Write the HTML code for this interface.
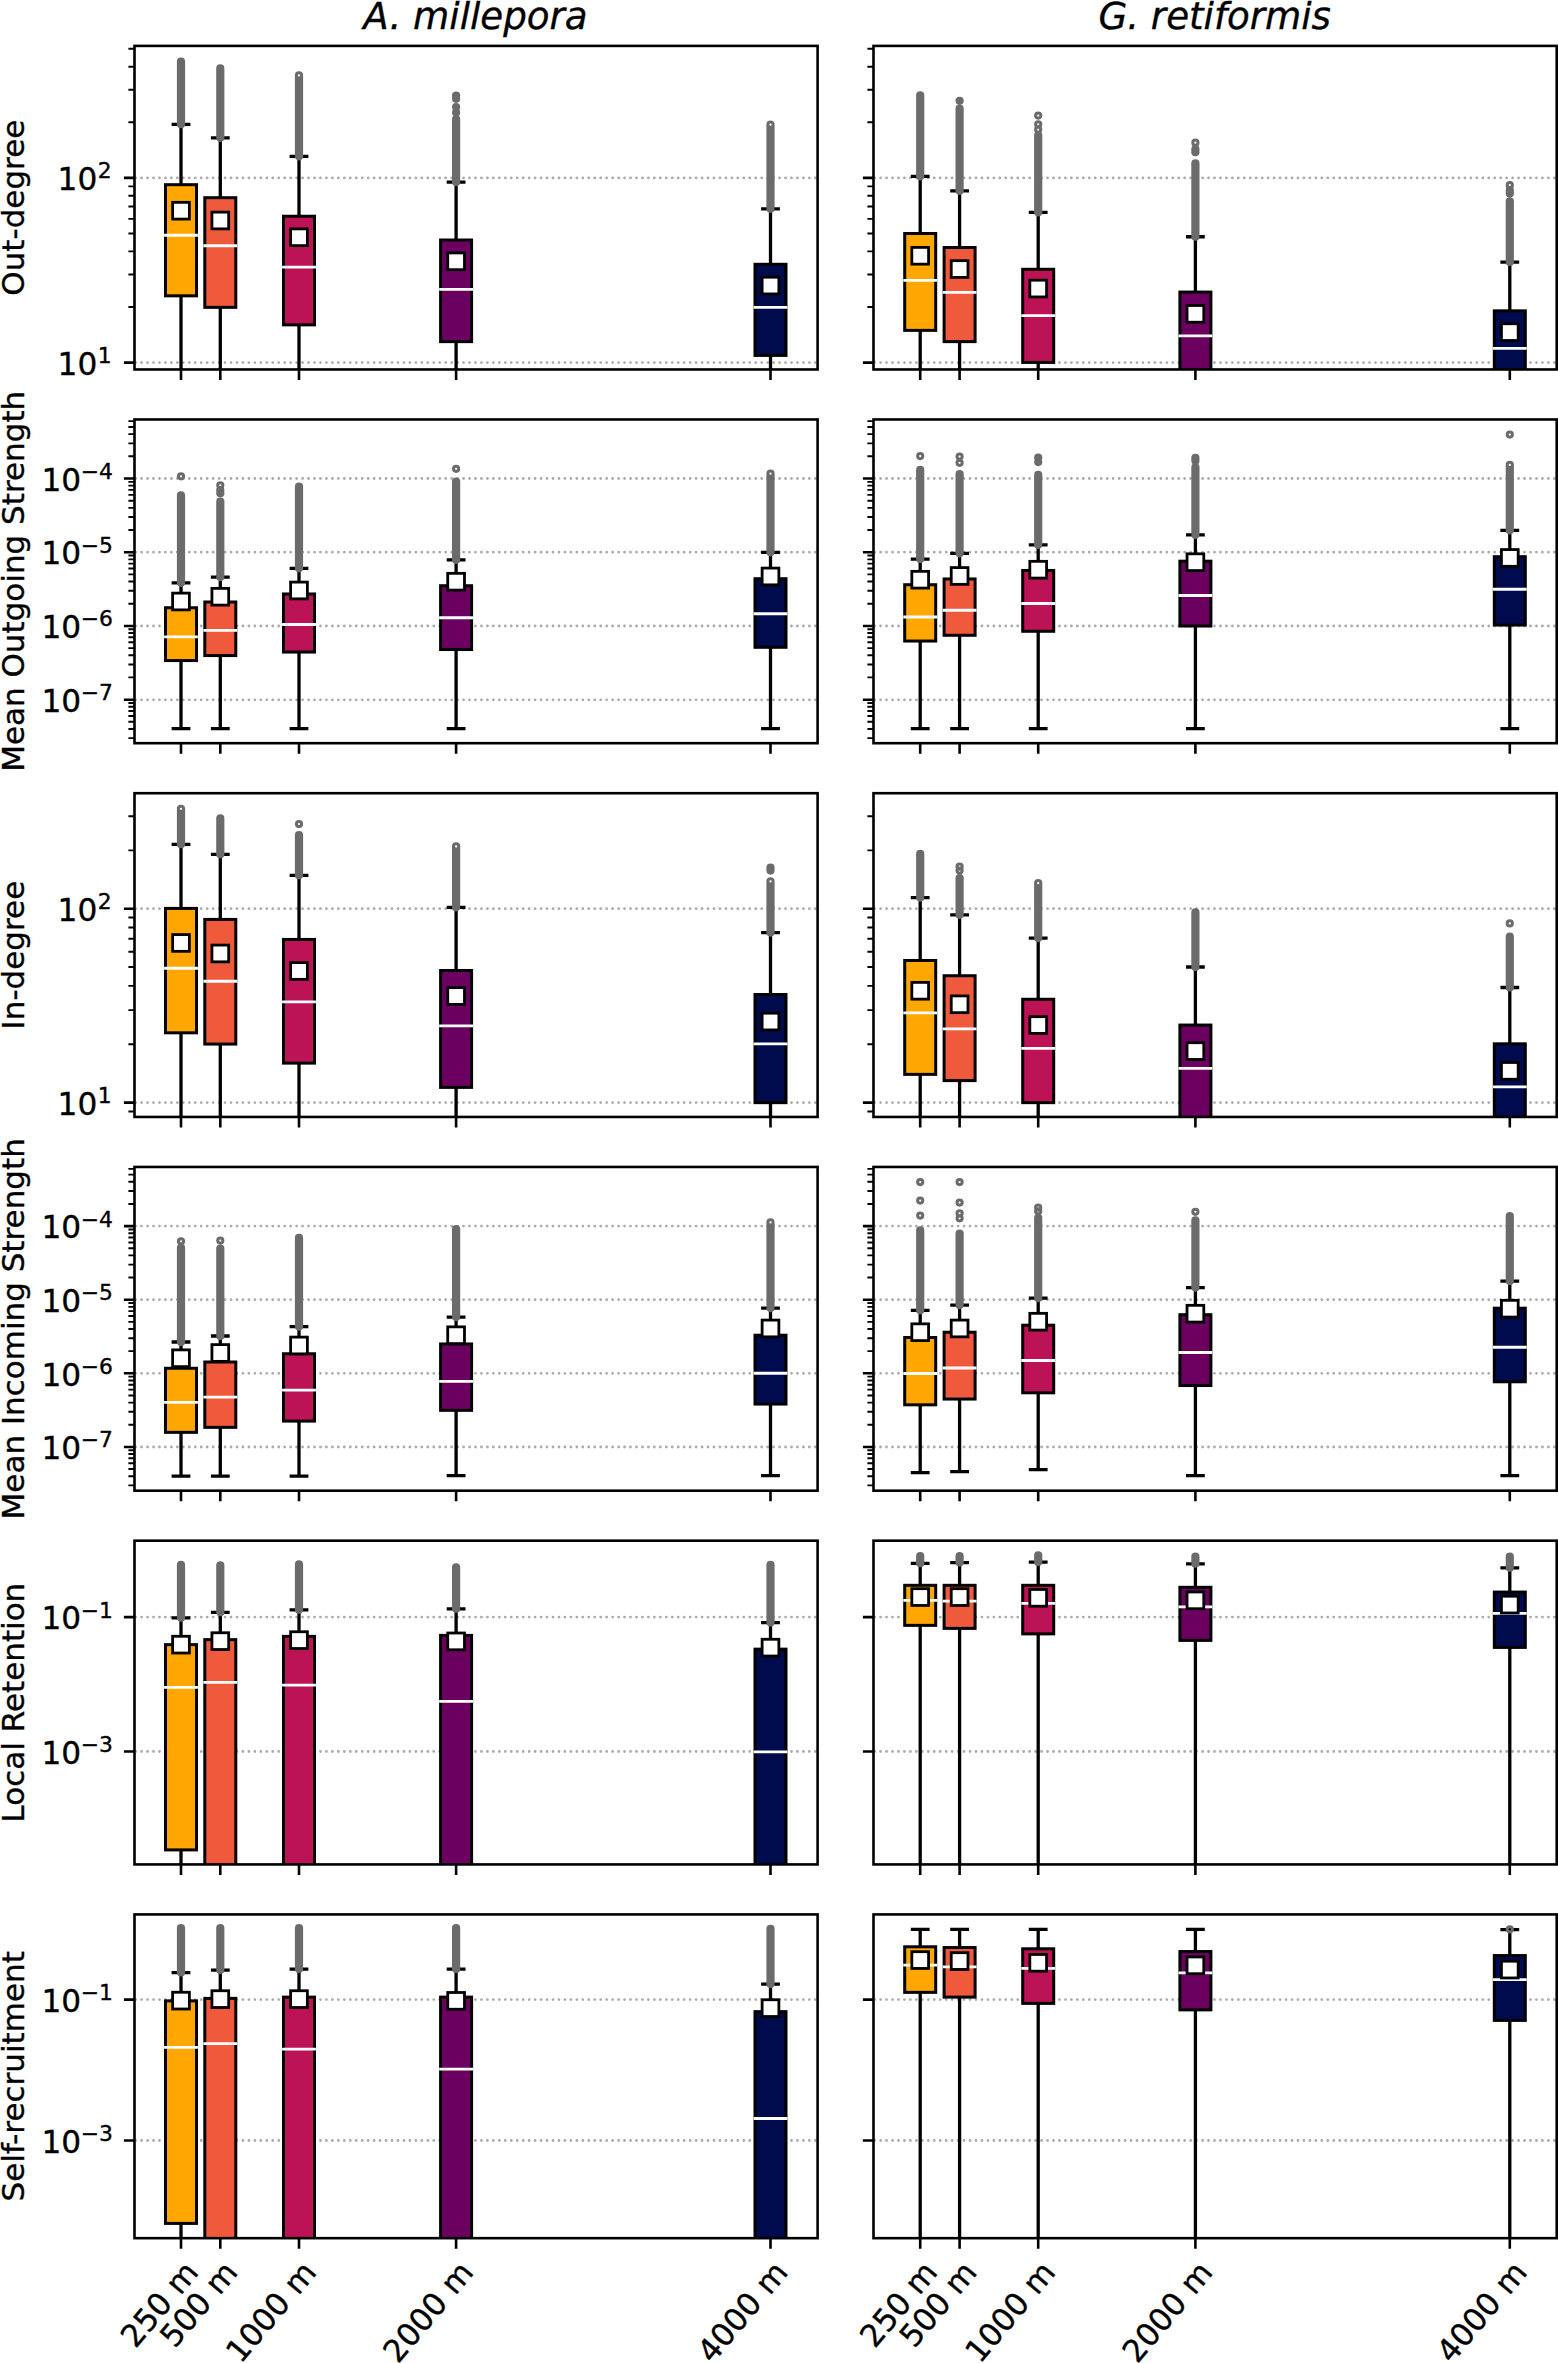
<!DOCTYPE html>
<html lang="en"><head><meta charset="utf-8"><title>Connectivity metrics</title>
<style>html,body{margin:0;padding:0;background:#fff}svg{display:block}</style></head>
<body>
<svg width="1558" height="2363" viewBox="0 0 1558 2363">
<rect width="1558" height="2363" fill="#fff"/>
<defs>
<clipPath id="c00"><rect x="134.5" y="45.9" width="683.1" height="323.57"/></clipPath>
<clipPath id="c01"><rect x="873.5" y="45.9" width="683.2" height="323.57"/></clipPath>
<clipPath id="c10"><rect x="134.5" y="419.47" width="683.1" height="323.74"/></clipPath>
<clipPath id="c11"><rect x="873.5" y="419.47" width="683.2" height="323.74"/></clipPath>
<clipPath id="c20"><rect x="134.5" y="793.21" width="683.1" height="323.74"/></clipPath>
<clipPath id="c21"><rect x="873.5" y="793.21" width="683.2" height="323.74"/></clipPath>
<clipPath id="c30"><rect x="134.5" y="1166.95" width="683.1" height="323.74"/></clipPath>
<clipPath id="c31"><rect x="873.5" y="1166.95" width="683.2" height="323.74"/></clipPath>
<clipPath id="c40"><rect x="134.5" y="1540.69" width="683.1" height="323.74"/></clipPath>
<clipPath id="c41"><rect x="873.5" y="1540.69" width="683.2" height="323.74"/></clipPath>
<clipPath id="c50"><rect x="134.5" y="1914.43" width="683.1" height="323.74"/></clipPath>
<clipPath id="c51"><rect x="873.5" y="1914.43" width="683.2" height="323.74"/></clipPath>
</defs>
<g>
<line x1="135.62" x2="817.6" y1="177.9" y2="177.9" stroke="#ABABAB" stroke-width="2.8" stroke-linecap="round" stroke-dasharray="0.01 5.9525"/>
<line x1="135.62" x2="817.6" y1="362.6" y2="362.6" stroke="#ABABAB" stroke-width="2.8" stroke-linecap="round" stroke-dasharray="0.01 5.9525"/>
<g clip-path="url(#c00)">
<path d="M181 184.69V124.36M181 295.83V389.47" stroke="#000" stroke-width="3.3" fill="none"/>
<path d="M171.6 124.36H190.4" stroke="#000" stroke-width="3.3" fill="none"/>
<rect x="165.5" y="184.69" width="31" height="111.14" fill="#FFA600" stroke="#000" stroke-width="3.0"/>
<line x1="164.1" x2="197.9" y1="235.25" y2="235.25" stroke="#fff" stroke-width="2.8"/>
<path d="M220.3 197.7V137.88M220.3 307.34V389.47" stroke="#000" stroke-width="3.3" fill="none"/>
<path d="M210.9 137.88H229.7" stroke="#000" stroke-width="3.3" fill="none"/>
<rect x="204.8" y="197.7" width="31" height="109.64" fill="#F05A3C" stroke="#000" stroke-width="3.0"/>
<line x1="203.4" x2="237.2" y1="245.76" y2="245.76" stroke="#fff" stroke-width="2.8"/>
<path d="M299 216.23V156.4M299 324.87V389.47" stroke="#000" stroke-width="3.3" fill="none"/>
<path d="M289.6 156.4H308.4" stroke="#000" stroke-width="3.3" fill="none"/>
<rect x="283.5" y="216.23" width="31" height="108.64" fill="#BC1256" stroke="#000" stroke-width="3.0"/>
<line x1="282.1" x2="315.9" y1="267.04" y2="267.04" stroke="#fff" stroke-width="2.8"/>
<path d="M456.1 240.01V182.18M456.1 341.64V389.47" stroke="#000" stroke-width="3.3" fill="none"/>
<path d="M446.7 182.18H465.5" stroke="#000" stroke-width="3.3" fill="none"/>
<rect x="440.6" y="240.01" width="31" height="101.63" fill="#6C0060" stroke="#000" stroke-width="3.0"/>
<line x1="439.2" x2="473" y1="289.32" y2="289.32" stroke="#fff" stroke-width="2.8"/>
<path d="M770.5 264.29V208.97M770.5 355.4V389.47" stroke="#000" stroke-width="3.3" fill="none"/>
<path d="M761.1 208.97H779.9" stroke="#000" stroke-width="3.3" fill="none"/>
<rect x="755" y="264.29" width="31" height="91.12" fill="#000B4D" stroke="#000" stroke-width="3.0"/>
<line x1="753.6" x2="787.4" y1="307.34" y2="307.34" stroke="#fff" stroke-width="2.8"/>
<line x1="181" x2="181" y1="61.62" y2="124.26" stroke="#6B6B6B" stroke-width="8.2" stroke-linecap="round"/>
<line x1="220.3" x2="220.3" y1="68.38" y2="137.78" stroke="#6B6B6B" stroke-width="8.2" stroke-linecap="round"/>
<line x1="299" x2="299" y1="75.39" y2="156.3" stroke="#6B6B6B" stroke-width="8.2" stroke-linecap="round"/>
<circle cx="299" cy="75.39" r="1.15" fill="#fff"/>
<line x1="456.1" x2="456.1" y1="119.2" y2="182.08" stroke="#6B6B6B" stroke-width="8.2" stroke-linecap="round"/>
<circle cx="456.1" cy="95.57" r="4.1" fill="#6B6B6B"/>
<circle cx="456.1" cy="98.83" r="4.1" fill="#6B6B6B"/>
<circle cx="456.1" cy="107.09" r="4.1" fill="#6B6B6B"/>
<circle cx="456.1" cy="112.59" r="4.1" fill="#6B6B6B"/>
<line x1="770.5" x2="770.5" y1="124.7" y2="208.87" stroke="#6B6B6B" stroke-width="8.2" stroke-linecap="round"/>
<circle cx="770.5" cy="124.7" r="1.15" fill="#fff"/>
<rect x="172.62" y="202.34" width="16.75" height="16.75" fill="#fff" stroke="#000" stroke-width="2.8"/>
<rect x="211.93" y="212.11" width="16.75" height="16.75" fill="#fff" stroke="#000" stroke-width="2.8"/>
<rect x="290.62" y="228.88" width="16.75" height="16.75" fill="#fff" stroke="#000" stroke-width="2.8"/>
<rect x="447.73" y="252.91" width="16.75" height="16.75" fill="#fff" stroke="#000" stroke-width="2.8"/>
<rect x="762.12" y="277.19" width="16.75" height="16.75" fill="#fff" stroke="#000" stroke-width="2.8"/>
</g>
<rect x="134.5" y="45.9" width="683.1" height="323.57" fill="none" stroke="#000" stroke-width="2.6"/>
<path d="M134.5 177.9h-10.6M134.5 362.6h-10.6M181 369.47v10.6M220.3 369.47v10.6M299 369.47v10.6M456.1 369.47v10.6M770.5 369.47v10.6" stroke="#000" stroke-width="2.6" fill="none"/>
<path d="M134.5 307h-6.1M134.5 274.48h-6.1M134.5 251.4h-6.1M134.5 233.5h-6.1M134.5 218.88h-6.1M134.5 206.51h-6.1M134.5 195.8h-6.1M134.5 186.35h-6.1M134.5 122.3h-6.1M134.5 89.78h-6.1M134.5 66.7h-6.1M134.5 48.8h-6.1" stroke="#000" stroke-width="1.9" fill="none"/>
</g>
<g>
<line x1="874.62" x2="1556.7" y1="177.9" y2="177.9" stroke="#ABABAB" stroke-width="2.8" stroke-linecap="round" stroke-dasharray="0.01 5.9525"/>
<line x1="874.62" x2="1556.7" y1="362.6" y2="362.6" stroke="#ABABAB" stroke-width="2.8" stroke-linecap="round" stroke-dasharray="0.01 5.9525"/>
<g clip-path="url(#c01)">
<path d="M920.2 233.5V176.42M920.2 330.37V389.47" stroke="#000" stroke-width="3.3" fill="none"/>
<path d="M910.8 176.42H929.6" stroke="#000" stroke-width="3.3" fill="none"/>
<rect x="904.7" y="233.5" width="31" height="96.87" fill="#FFA600" stroke="#000" stroke-width="3.0"/>
<line x1="903.3" x2="937.1" y1="280.31" y2="280.31" stroke="#fff" stroke-width="2.8"/>
<path d="M959.6 247.52V190.94M959.6 341.64V389.47" stroke="#000" stroke-width="3.3" fill="none"/>
<path d="M950.2 190.94H969" stroke="#000" stroke-width="3.3" fill="none"/>
<rect x="944.1" y="247.52" width="31" height="94.12" fill="#F05A3C" stroke="#000" stroke-width="3.0"/>
<line x1="942.7" x2="976.5" y1="292.32" y2="292.32" stroke="#fff" stroke-width="2.8"/>
<path d="M1038.2 269.29V212.47M1038.2 362.41V389.47" stroke="#000" stroke-width="3.3" fill="none"/>
<path d="M1028.8 212.47H1047.6" stroke="#000" stroke-width="3.3" fill="none"/>
<rect x="1022.7" y="269.29" width="31" height="93.12" fill="#BC1256" stroke="#000" stroke-width="3.0"/>
<line x1="1021.3" x2="1055.1" y1="315.6" y2="315.6" stroke="#fff" stroke-width="2.8"/>
<path d="M1195.4 292.07V236.75M1195.4 389.47V389.47" stroke="#000" stroke-width="3.3" fill="none"/>
<path d="M1186 236.75H1204.8" stroke="#000" stroke-width="3.3" fill="none"/>
<rect x="1179.9" y="292.07" width="31" height="97.4" fill="#6C0060" stroke="#000" stroke-width="3.0"/>
<line x1="1178.5" x2="1212.3" y1="335.88" y2="335.88" stroke="#fff" stroke-width="2.8"/>
<path d="M1509.8 310.85V262.03M1509.8 389.47V389.47" stroke="#000" stroke-width="3.3" fill="none"/>
<path d="M1500.4 262.03H1519.2" stroke="#000" stroke-width="3.3" fill="none"/>
<rect x="1494.3" y="310.85" width="31" height="78.62" fill="#000B4D" stroke="#000" stroke-width="3.0"/>
<line x1="1492.9" x2="1526.7" y1="348.4" y2="348.4" stroke="#fff" stroke-width="2.8"/>
<line x1="920.2" x2="920.2" y1="95.42" y2="176.32" stroke="#6B6B6B" stroke-width="8.2" stroke-linecap="round"/>
<line x1="959.6" x2="959.6" y1="108.68" y2="190.84" stroke="#6B6B6B" stroke-width="8.2" stroke-linecap="round"/>
<circle cx="959.6" cy="100.83" r="4.1" fill="#6B6B6B"/>
<line x1="1038.2" x2="1038.2" y1="135.47" y2="212.37" stroke="#6B6B6B" stroke-width="8.2" stroke-linecap="round"/>
<circle cx="1038.2" cy="115.6" r="2.6" fill="none" stroke="#6B6B6B" stroke-width="3.0"/>
<circle cx="1038.2" cy="124.36" r="2.6" fill="none" stroke="#6B6B6B" stroke-width="3.0"/>
<circle cx="1038.2" cy="129.61" r="2.6" fill="none" stroke="#6B6B6B" stroke-width="3.0"/>
<line x1="1195.4" x2="1195.4" y1="163.25" y2="236.65" stroke="#6B6B6B" stroke-width="8.2" stroke-linecap="round"/>
<circle cx="1195.4" cy="149.14" r="4.1" fill="#6B6B6B"/>
<circle cx="1195.4" cy="152.14" r="4.1" fill="#6B6B6B"/>
<circle cx="1195.4" cy="142.63" r="2.6" fill="none" stroke="#6B6B6B" stroke-width="3.0"/>
<line x1="1509.8" x2="1509.8" y1="201.3" y2="261.93" stroke="#6B6B6B" stroke-width="8.2" stroke-linecap="round"/>
<circle cx="1509.8" cy="190.19" r="4.1" fill="#6B6B6B"/>
<circle cx="1509.8" cy="193.45" r="4.1" fill="#6B6B6B"/>
<circle cx="1509.8" cy="185.19" r="2.6" fill="none" stroke="#6B6B6B" stroke-width="3.0"/>
<rect x="911.83" y="247.4" width="16.75" height="16.75" fill="#fff" stroke="#000" stroke-width="2.8"/>
<rect x="951.23" y="260.67" width="16.75" height="16.75" fill="#fff" stroke="#000" stroke-width="2.8"/>
<rect x="1029.83" y="280.19" width="16.75" height="16.75" fill="#fff" stroke="#000" stroke-width="2.8"/>
<rect x="1187.03" y="305.48" width="16.75" height="16.75" fill="#fff" stroke="#000" stroke-width="2.8"/>
<rect x="1501.42" y="323.75" width="16.75" height="16.75" fill="#fff" stroke="#000" stroke-width="2.8"/>
</g>
<rect x="873.5" y="45.9" width="683.2" height="323.57" fill="none" stroke="#000" stroke-width="2.6"/>
<path d="M873.5 177.9h-10.6M873.5 362.6h-10.6M920.2 369.47v10.6M959.6 369.47v10.6M1038.2 369.47v10.6M1195.4 369.47v10.6M1509.8 369.47v10.6" stroke="#000" stroke-width="2.6" fill="none"/>
<path d="M873.5 307h-6.1M873.5 274.48h-6.1M873.5 251.4h-6.1M873.5 233.5h-6.1M873.5 218.88h-6.1M873.5 206.51h-6.1M873.5 195.8h-6.1M873.5 186.35h-6.1M873.5 122.3h-6.1M873.5 89.78h-6.1M873.5 66.7h-6.1M873.5 48.8h-6.1" stroke="#000" stroke-width="1.9" fill="none"/>
</g>
<g>
<line x1="135.62" x2="817.6" y1="478.5" y2="478.5" stroke="#ABABAB" stroke-width="2.8" stroke-linecap="round" stroke-dasharray="0.01 5.9525"/>
<line x1="135.62" x2="817.6" y1="552.2" y2="552.2" stroke="#ABABAB" stroke-width="2.8" stroke-linecap="round" stroke-dasharray="0.01 5.9525"/>
<line x1="135.62" x2="817.6" y1="626" y2="626" stroke="#ABABAB" stroke-width="2.8" stroke-linecap="round" stroke-dasharray="0.01 5.9525"/>
<line x1="135.62" x2="817.6" y1="699.8" y2="699.8" stroke="#ABABAB" stroke-width="2.8" stroke-linecap="round" stroke-dasharray="0.01 5.9525"/>
<g clip-path="url(#c10)">
<path d="M181 607.75V582.97M181 660.57V728.66" stroke="#000" stroke-width="3.3" fill="none"/>
<path d="M171.6 582.97H190.4M171.6 728.66H190.4" stroke="#000" stroke-width="3.3" fill="none"/>
<rect x="165.5" y="607.75" width="31" height="52.82" fill="#FFA600" stroke="#000" stroke-width="3.0"/>
<line x1="164.1" x2="197.9" y1="636.79" y2="636.79" stroke="#fff" stroke-width="2.8"/>
<path d="M220.3 601.99V577.21M220.3 655.56V728.66" stroke="#000" stroke-width="3.3" fill="none"/>
<path d="M210.9 577.21H229.7M210.9 728.66H229.7" stroke="#000" stroke-width="3.3" fill="none"/>
<rect x="204.8" y="601.99" width="31" height="53.57" fill="#F05A3C" stroke="#000" stroke-width="3.0"/>
<line x1="203.4" x2="237.2" y1="630.28" y2="630.28" stroke="#fff" stroke-width="2.8"/>
<path d="M299 593.98V568.45M299 652.06V728.66" stroke="#000" stroke-width="3.3" fill="none"/>
<path d="M289.6 568.45H308.4M289.6 728.66H308.4" stroke="#000" stroke-width="3.3" fill="none"/>
<rect x="283.5" y="593.98" width="31" height="58.07" fill="#BC1256" stroke="#000" stroke-width="3.0"/>
<line x1="282.1" x2="315.9" y1="624.52" y2="624.52" stroke="#fff" stroke-width="2.8"/>
<path d="M456.1 585.72V559.94M456.1 649.55V728.66" stroke="#000" stroke-width="3.3" fill="none"/>
<path d="M446.7 559.94H465.5M446.7 728.66H465.5" stroke="#000" stroke-width="3.3" fill="none"/>
<rect x="440.6" y="585.72" width="31" height="63.83" fill="#6C0060" stroke="#000" stroke-width="3.0"/>
<line x1="439.2" x2="473" y1="617.76" y2="617.76" stroke="#fff" stroke-width="2.8"/>
<path d="M770.5 578.71V552.43M770.5 647.3V728.66" stroke="#000" stroke-width="3.3" fill="none"/>
<path d="M761.1 552.43H779.9M761.1 728.66H779.9" stroke="#000" stroke-width="3.3" fill="none"/>
<rect x="755" y="578.71" width="31" height="68.59" fill="#000B4D" stroke="#000" stroke-width="3.0"/>
<line x1="753.6" x2="787.4" y1="613.76" y2="613.76" stroke="#fff" stroke-width="2.8"/>
<line x1="181" x2="181" y1="495.45" y2="582.87" stroke="#6B6B6B" stroke-width="8.2" stroke-linecap="round"/>
<circle cx="181" cy="476.33" r="2.6" fill="none" stroke="#6B6B6B" stroke-width="3.0"/>
<line x1="220.3" x2="220.3" y1="501.71" y2="577.11" stroke="#6B6B6B" stroke-width="8.2" stroke-linecap="round"/>
<circle cx="220.3" cy="490.1" r="4.1" fill="#6B6B6B"/>
<circle cx="220.3" cy="493.35" r="4.1" fill="#6B6B6B"/>
<circle cx="220.3" cy="485.34" r="2.6" fill="none" stroke="#6B6B6B" stroke-width="3.0"/>
<line x1="299" x2="299" y1="486.69" y2="568.35" stroke="#6B6B6B" stroke-width="8.2" stroke-linecap="round"/>
<line x1="456.1" x2="456.1" y1="481.68" y2="559.84" stroke="#6B6B6B" stroke-width="8.2" stroke-linecap="round"/>
<circle cx="456.1" cy="468.82" r="2.6" fill="none" stroke="#6B6B6B" stroke-width="3.0"/>
<line x1="770.5" x2="770.5" y1="473.67" y2="552.33" stroke="#6B6B6B" stroke-width="8.2" stroke-linecap="round"/>
<circle cx="770.5" cy="473.67" r="1.15" fill="#fff"/>
<rect x="172.62" y="593.12" width="16.75" height="16.75" fill="#fff" stroke="#000" stroke-width="2.8"/>
<rect x="211.93" y="588.36" width="16.75" height="16.75" fill="#fff" stroke="#000" stroke-width="2.8"/>
<rect x="290.62" y="582.1" width="16.75" height="16.75" fill="#fff" stroke="#000" stroke-width="2.8"/>
<rect x="447.73" y="573.34" width="16.75" height="16.75" fill="#fff" stroke="#000" stroke-width="2.8"/>
<rect x="762.12" y="568.09" width="16.75" height="16.75" fill="#fff" stroke="#000" stroke-width="2.8"/>
</g>
<rect x="134.5" y="419.47" width="683.1" height="323.74" fill="none" stroke="#000" stroke-width="2.6"/>
<path d="M134.5 478.5h-10.6M134.5 552.2h-10.6M134.5 626h-10.6M134.5 699.8h-10.6M181 743.21v10.6M220.3 743.21v10.6M299 743.21v10.6M456.1 743.21v10.6M770.5 743.21v10.6" stroke="#000" stroke-width="2.6" fill="none"/>
<path d="M134.5 738.14h-6.1M134.5 728.93h-6.1M134.5 721.79h-6.1M134.5 715.95h-6.1M134.5 711.02h-6.1M134.5 706.74h-6.1M134.5 702.97h-6.1M134.5 677.41h-6.1M134.5 664.44h-6.1M134.5 655.23h-6.1M134.5 648.09h-6.1M134.5 642.25h-6.1M134.5 637.32h-6.1M134.5 633.04h-6.1M134.5 629.27h-6.1M134.5 603.71h-6.1M134.5 590.74h-6.1M134.5 581.53h-6.1M134.5 574.39h-6.1M134.5 568.55h-6.1M134.5 563.62h-6.1M134.5 559.34h-6.1M134.5 555.57h-6.1M134.5 530.01h-6.1M134.5 517.04h-6.1M134.5 507.83h-6.1M134.5 500.69h-6.1M134.5 494.85h-6.1M134.5 489.92h-6.1M134.5 485.64h-6.1M134.5 481.87h-6.1M134.5 456.31h-6.1M134.5 443.34h-6.1M134.5 434.13h-6.1M134.5 426.99h-6.1M134.5 421.15h-6.1" stroke="#000" stroke-width="1.9" fill="none"/>
</g>
<g>
<line x1="874.62" x2="1556.7" y1="478.5" y2="478.5" stroke="#ABABAB" stroke-width="2.8" stroke-linecap="round" stroke-dasharray="0.01 5.9525"/>
<line x1="874.62" x2="1556.7" y1="552.2" y2="552.2" stroke="#ABABAB" stroke-width="2.8" stroke-linecap="round" stroke-dasharray="0.01 5.9525"/>
<line x1="874.62" x2="1556.7" y1="626" y2="626" stroke="#ABABAB" stroke-width="2.8" stroke-linecap="round" stroke-dasharray="0.01 5.9525"/>
<line x1="874.62" x2="1556.7" y1="699.8" y2="699.8" stroke="#ABABAB" stroke-width="2.8" stroke-linecap="round" stroke-dasharray="0.01 5.9525"/>
<g clip-path="url(#c11)">
<path d="M920.2 584.72V559.19M920.2 641.04V728.66" stroke="#000" stroke-width="3.3" fill="none"/>
<path d="M910.8 559.19H929.6M910.8 728.66H929.6" stroke="#000" stroke-width="3.3" fill="none"/>
<rect x="904.7" y="584.72" width="31" height="56.32" fill="#FFA600" stroke="#000" stroke-width="3.0"/>
<line x1="903.3" x2="937.1" y1="617.01" y2="617.01" stroke="#fff" stroke-width="2.8"/>
<path d="M959.6 578.96V553.43M959.6 635.29V728.66" stroke="#000" stroke-width="3.3" fill="none"/>
<path d="M950.2 553.43H969M950.2 728.66H969" stroke="#000" stroke-width="3.3" fill="none"/>
<rect x="944.1" y="578.96" width="31" height="56.32" fill="#F05A3C" stroke="#000" stroke-width="3.0"/>
<line x1="942.7" x2="976.5" y1="610.25" y2="610.25" stroke="#fff" stroke-width="2.8"/>
<path d="M1038.2 570.45V544.92M1038.2 631.28V728.66" stroke="#000" stroke-width="3.3" fill="none"/>
<path d="M1028.8 544.92H1047.6M1028.8 728.66H1047.6" stroke="#000" stroke-width="3.3" fill="none"/>
<rect x="1022.7" y="570.45" width="31" height="60.83" fill="#BC1256" stroke="#000" stroke-width="3.0"/>
<line x1="1021.3" x2="1055.1" y1="603.5" y2="603.5" stroke="#fff" stroke-width="2.8"/>
<path d="M1195.4 561.19V534.91M1195.4 626.02V728.66" stroke="#000" stroke-width="3.3" fill="none"/>
<path d="M1186 534.91H1204.8M1186 728.66H1204.8" stroke="#000" stroke-width="3.3" fill="none"/>
<rect x="1179.9" y="561.19" width="31" height="64.83" fill="#6C0060" stroke="#000" stroke-width="3.0"/>
<line x1="1178.5" x2="1212.3" y1="595.49" y2="595.49" stroke="#fff" stroke-width="2.8"/>
<path d="M1509.8 556.69V530.4M1509.8 625.02V728.66" stroke="#000" stroke-width="3.3" fill="none"/>
<path d="M1500.4 530.4H1519.2M1500.4 728.66H1519.2" stroke="#000" stroke-width="3.3" fill="none"/>
<rect x="1494.3" y="556.69" width="31" height="68.34" fill="#000B4D" stroke="#000" stroke-width="3.0"/>
<line x1="1492.9" x2="1526.7" y1="589.23" y2="589.23" stroke="#fff" stroke-width="2.8"/>
<line x1="920.2" x2="920.2" y1="469.92" y2="559.09" stroke="#6B6B6B" stroke-width="8.2" stroke-linecap="round"/>
<circle cx="920.2" cy="456.06" r="2.6" fill="none" stroke="#6B6B6B" stroke-width="3.0"/>
<line x1="959.6" x2="959.6" y1="474.17" y2="553.33" stroke="#6B6B6B" stroke-width="8.2" stroke-linecap="round"/>
<circle cx="959.6" cy="456.56" r="2.6" fill="none" stroke="#6B6B6B" stroke-width="3.0"/>
<circle cx="959.6" cy="462.82" r="2.6" fill="none" stroke="#6B6B6B" stroke-width="3.0"/>
<line x1="1038.2" x2="1038.2" y1="474.93" y2="544.82" stroke="#6B6B6B" stroke-width="8.2" stroke-linecap="round"/>
<circle cx="1038.2" cy="457.56" r="4.1" fill="#6B6B6B"/>
<circle cx="1038.2" cy="462.06" r="4.1" fill="#6B6B6B"/>
<line x1="1195.4" x2="1195.4" y1="467.42" y2="534.81" stroke="#6B6B6B" stroke-width="8.2" stroke-linecap="round"/>
<circle cx="1195.4" cy="457.81" r="4.1" fill="#6B6B6B"/>
<circle cx="1195.4" cy="460.81" r="4.1" fill="#6B6B6B"/>
<line x1="1509.8" x2="1509.8" y1="464.91" y2="530.3" stroke="#6B6B6B" stroke-width="8.2" stroke-linecap="round"/>
<circle cx="1509.8" cy="464.91" r="1.15" fill="#fff"/>
<circle cx="1509.8" cy="434.53" r="2.6" fill="none" stroke="#6B6B6B" stroke-width="3.0"/>
<rect x="911.83" y="571.34" width="16.75" height="16.75" fill="#fff" stroke="#000" stroke-width="2.8"/>
<rect x="951.23" y="567.59" width="16.75" height="16.75" fill="#fff" stroke="#000" stroke-width="2.8"/>
<rect x="1029.83" y="561.33" width="16.75" height="16.75" fill="#fff" stroke="#000" stroke-width="2.8"/>
<rect x="1187.03" y="553.82" width="16.75" height="16.75" fill="#fff" stroke="#000" stroke-width="2.8"/>
<rect x="1501.42" y="549.56" width="16.75" height="16.75" fill="#fff" stroke="#000" stroke-width="2.8"/>
</g>
<rect x="873.5" y="419.47" width="683.2" height="323.74" fill="none" stroke="#000" stroke-width="2.6"/>
<path d="M873.5 478.5h-10.6M873.5 552.2h-10.6M873.5 626h-10.6M873.5 699.8h-10.6M920.2 743.21v10.6M959.6 743.21v10.6M1038.2 743.21v10.6M1195.4 743.21v10.6M1509.8 743.21v10.6" stroke="#000" stroke-width="2.6" fill="none"/>
<path d="M873.5 738.14h-6.1M873.5 728.93h-6.1M873.5 721.79h-6.1M873.5 715.95h-6.1M873.5 711.02h-6.1M873.5 706.74h-6.1M873.5 702.97h-6.1M873.5 677.41h-6.1M873.5 664.44h-6.1M873.5 655.23h-6.1M873.5 648.09h-6.1M873.5 642.25h-6.1M873.5 637.32h-6.1M873.5 633.04h-6.1M873.5 629.27h-6.1M873.5 603.71h-6.1M873.5 590.74h-6.1M873.5 581.53h-6.1M873.5 574.39h-6.1M873.5 568.55h-6.1M873.5 563.62h-6.1M873.5 559.34h-6.1M873.5 555.57h-6.1M873.5 530.01h-6.1M873.5 517.04h-6.1M873.5 507.83h-6.1M873.5 500.69h-6.1M873.5 494.85h-6.1M873.5 489.92h-6.1M873.5 485.64h-6.1M873.5 481.87h-6.1M873.5 456.31h-6.1M873.5 443.34h-6.1M873.5 434.13h-6.1M873.5 426.99h-6.1M873.5 421.15h-6.1" stroke="#000" stroke-width="1.9" fill="none"/>
</g>
<g>
<line x1="135.62" x2="817.6" y1="908.7" y2="908.7" stroke="#ABABAB" stroke-width="2.8" stroke-linecap="round" stroke-dasharray="0.01 5.9525"/>
<line x1="135.62" x2="817.6" y1="1102.6" y2="1102.6" stroke="#ABABAB" stroke-width="2.8" stroke-linecap="round" stroke-dasharray="0.01 5.9525"/>
<g clip-path="url(#c20)">
<path d="M181 908.41V844.32M181 1032.82V1136.95" stroke="#000" stroke-width="3.3" fill="none"/>
<path d="M171.6 844.32H190.4" stroke="#000" stroke-width="3.3" fill="none"/>
<rect x="165.5" y="908.41" width="31" height="124.41" fill="#FFA600" stroke="#000" stroke-width="3.0"/>
<line x1="164.1" x2="197.9" y1="968.23" y2="968.23" stroke="#fff" stroke-width="2.8"/>
<path d="M220.3 919.42V854.34M220.3 1044.08V1136.95" stroke="#000" stroke-width="3.3" fill="none"/>
<path d="M210.9 854.34H229.7" stroke="#000" stroke-width="3.3" fill="none"/>
<rect x="204.8" y="919.42" width="31" height="124.66" fill="#F05A3C" stroke="#000" stroke-width="3.0"/>
<line x1="203.4" x2="237.2" y1="981.25" y2="981.25" stroke="#fff" stroke-width="2.8"/>
<path d="M299 939.45V875.36M299 1063.11V1136.95" stroke="#000" stroke-width="3.3" fill="none"/>
<path d="M289.6 875.36H308.4" stroke="#000" stroke-width="3.3" fill="none"/>
<rect x="283.5" y="939.45" width="31" height="123.66" fill="#BC1256" stroke="#000" stroke-width="3.0"/>
<line x1="282.1" x2="315.9" y1="1001.78" y2="1001.78" stroke="#fff" stroke-width="2.8"/>
<path d="M456.1 970.49V907.41M456.1 1087.39V1136.95" stroke="#000" stroke-width="3.3" fill="none"/>
<path d="M446.7 907.41H465.5" stroke="#000" stroke-width="3.3" fill="none"/>
<rect x="440.6" y="970.49" width="31" height="116.9" fill="#6C0060" stroke="#000" stroke-width="3.0"/>
<line x1="439.2" x2="473" y1="1025.81" y2="1025.81" stroke="#fff" stroke-width="2.8"/>
<path d="M770.5 994.52V932.69M770.5 1102.66V1136.95" stroke="#000" stroke-width="3.3" fill="none"/>
<path d="M761.1 932.69H779.9" stroke="#000" stroke-width="3.3" fill="none"/>
<rect x="755" y="994.52" width="31" height="108.14" fill="#000B4D" stroke="#000" stroke-width="3.0"/>
<line x1="753.6" x2="787.4" y1="1043.83" y2="1043.83" stroke="#fff" stroke-width="2.8"/>
<line x1="181" x2="181" y1="808.87" y2="844.22" stroke="#6B6B6B" stroke-width="8.2" stroke-linecap="round"/>
<circle cx="181" cy="808.87" r="1.15" fill="#fff"/>
<line x1="220.3" x2="220.3" y1="818.39" y2="854.24" stroke="#6B6B6B" stroke-width="8.2" stroke-linecap="round"/>
<line x1="299" x2="299" y1="835.16" y2="875.26" stroke="#6B6B6B" stroke-width="8.2" stroke-linecap="round"/>
<circle cx="299" cy="824.05" r="2.6" fill="none" stroke="#6B6B6B" stroke-width="3.0"/>
<line x1="456.1" x2="456.1" y1="846.42" y2="907.31" stroke="#6B6B6B" stroke-width="8.2" stroke-linecap="round"/>
<circle cx="456.1" cy="846.42" r="1.15" fill="#fff"/>
<line x1="770.5" x2="770.5" y1="881.47" y2="932.59" stroke="#6B6B6B" stroke-width="8.2" stroke-linecap="round"/>
<circle cx="770.5" cy="881.47" r="1.15" fill="#fff"/>
<circle cx="770.5" cy="867.6" r="4.1" fill="#6B6B6B"/>
<circle cx="770.5" cy="870.61" r="4.1" fill="#6B6B6B"/>
<rect x="172.62" y="934.58" width="16.75" height="16.75" fill="#fff" stroke="#000" stroke-width="2.8"/>
<rect x="211.93" y="945.09" width="16.75" height="16.75" fill="#fff" stroke="#000" stroke-width="2.8"/>
<rect x="290.62" y="962.61" width="16.75" height="16.75" fill="#fff" stroke="#000" stroke-width="2.8"/>
<rect x="447.73" y="987.64" width="16.75" height="16.75" fill="#fff" stroke="#000" stroke-width="2.8"/>
<rect x="762.12" y="1013.18" width="16.75" height="16.75" fill="#fff" stroke="#000" stroke-width="2.8"/>
</g>
<rect x="134.5" y="793.21" width="683.1" height="323.74" fill="none" stroke="#000" stroke-width="2.6"/>
<path d="M134.5 908.7h-10.6M134.5 1102.6h-10.6M181 1116.95v10.6M220.3 1116.95v10.6M299 1116.95v10.6M456.1 1116.95v10.6M770.5 1116.95v10.6" stroke="#000" stroke-width="2.6" fill="none"/>
<path d="M134.5 1111.47h-6.1M134.5 1044.23h-6.1M134.5 1010.09h-6.1M134.5 985.86h-6.1M134.5 967.07h-6.1M134.5 951.72h-6.1M134.5 938.74h-6.1M134.5 927.49h-6.1M134.5 917.57h-6.1M134.5 850.33h-6.1M134.5 816.19h-6.1" stroke="#000" stroke-width="1.9" fill="none"/>
</g>
<g>
<line x1="874.62" x2="1556.7" y1="908.7" y2="908.7" stroke="#ABABAB" stroke-width="2.8" stroke-linecap="round" stroke-dasharray="0.01 5.9525"/>
<line x1="874.62" x2="1556.7" y1="1102.6" y2="1102.6" stroke="#ABABAB" stroke-width="2.8" stroke-linecap="round" stroke-dasharray="0.01 5.9525"/>
<g clip-path="url(#c21)">
<path d="M920.2 960.47V897.64M920.2 1074.37V1136.95" stroke="#000" stroke-width="3.3" fill="none"/>
<path d="M910.8 897.64H929.6" stroke="#000" stroke-width="3.3" fill="none"/>
<rect x="904.7" y="960.47" width="31" height="113.9" fill="#FFA600" stroke="#000" stroke-width="3.0"/>
<line x1="903.3" x2="937.1" y1="1012.79" y2="1012.79" stroke="#fff" stroke-width="2.8"/>
<path d="M959.6 975.74V914.92M959.6 1080.63V1136.95" stroke="#000" stroke-width="3.3" fill="none"/>
<path d="M950.2 914.92H969" stroke="#000" stroke-width="3.3" fill="none"/>
<rect x="944.1" y="975.74" width="31" height="104.88" fill="#F05A3C" stroke="#000" stroke-width="3.0"/>
<line x1="942.7" x2="976.5" y1="1028.81" y2="1028.81" stroke="#fff" stroke-width="2.8"/>
<path d="M1038.2 999.27V938.2M1038.2 1102.66V1136.95" stroke="#000" stroke-width="3.3" fill="none"/>
<path d="M1028.8 938.2H1047.6" stroke="#000" stroke-width="3.3" fill="none"/>
<rect x="1022.7" y="999.27" width="31" height="103.38" fill="#BC1256" stroke="#000" stroke-width="3.0"/>
<line x1="1021.3" x2="1055.1" y1="1048.34" y2="1048.34" stroke="#fff" stroke-width="2.8"/>
<path d="M1195.4 1025.06V966.98M1195.4 1136.95V1136.95" stroke="#000" stroke-width="3.3" fill="none"/>
<path d="M1186 966.98H1204.8" stroke="#000" stroke-width="3.3" fill="none"/>
<rect x="1179.9" y="1025.06" width="31" height="111.89" fill="#6C0060" stroke="#000" stroke-width="3.0"/>
<line x1="1178.5" x2="1212.3" y1="1068.36" y2="1068.36" stroke="#fff" stroke-width="2.8"/>
<path d="M1509.8 1043.83V987.51M1509.8 1136.95V1136.95" stroke="#000" stroke-width="3.3" fill="none"/>
<path d="M1500.4 987.51H1519.2" stroke="#000" stroke-width="3.3" fill="none"/>
<rect x="1494.3" y="1043.83" width="31" height="93.12" fill="#000B4D" stroke="#000" stroke-width="3.0"/>
<line x1="1492.9" x2="1526.7" y1="1086.89" y2="1086.89" stroke="#fff" stroke-width="2.8"/>
<line x1="920.2" x2="920.2" y1="853.93" y2="897.54" stroke="#6B6B6B" stroke-width="8.2" stroke-linecap="round"/>
<line x1="959.6" x2="959.6" y1="878.21" y2="914.82" stroke="#6B6B6B" stroke-width="8.2" stroke-linecap="round"/>
<circle cx="959.6" cy="866.6" r="2.6" fill="none" stroke="#6B6B6B" stroke-width="3.0"/>
<circle cx="959.6" cy="870.61" r="2.6" fill="none" stroke="#6B6B6B" stroke-width="3.0"/>
<line x1="1038.2" x2="1038.2" y1="883.22" y2="938.1" stroke="#6B6B6B" stroke-width="8.2" stroke-linecap="round"/>
<circle cx="1038.2" cy="883.22" r="1.15" fill="#fff"/>
<line x1="1195.4" x2="1195.4" y1="912.26" y2="966.88" stroke="#6B6B6B" stroke-width="8.2" stroke-linecap="round"/>
<line x1="1509.8" x2="1509.8" y1="936.54" y2="987.41" stroke="#6B6B6B" stroke-width="8.2" stroke-linecap="round"/>
<circle cx="1509.8" cy="923.43" r="2.6" fill="none" stroke="#6B6B6B" stroke-width="3.0"/>
<rect x="911.83" y="982.39" width="16.75" height="16.75" fill="#fff" stroke="#000" stroke-width="2.8"/>
<rect x="951.23" y="995.9" width="16.75" height="16.75" fill="#fff" stroke="#000" stroke-width="2.8"/>
<rect x="1029.83" y="1016.68" width="16.75" height="16.75" fill="#fff" stroke="#000" stroke-width="2.8"/>
<rect x="1187.03" y="1042.71" width="16.75" height="16.75" fill="#fff" stroke="#000" stroke-width="2.8"/>
<rect x="1501.42" y="1062.49" width="16.75" height="16.75" fill="#fff" stroke="#000" stroke-width="2.8"/>
</g>
<rect x="873.5" y="793.21" width="683.2" height="323.74" fill="none" stroke="#000" stroke-width="2.6"/>
<path d="M873.5 908.7h-10.6M873.5 1102.6h-10.6M920.2 1116.95v10.6M959.6 1116.95v10.6M1038.2 1116.95v10.6M1195.4 1116.95v10.6M1509.8 1116.95v10.6" stroke="#000" stroke-width="2.6" fill="none"/>
<path d="M873.5 1111.47h-6.1M873.5 1044.23h-6.1M873.5 1010.09h-6.1M873.5 985.86h-6.1M873.5 967.07h-6.1M873.5 951.72h-6.1M873.5 938.74h-6.1M873.5 927.49h-6.1M873.5 917.57h-6.1M873.5 850.33h-6.1M873.5 816.19h-6.1" stroke="#000" stroke-width="1.9" fill="none"/>
</g>
<g>
<line x1="135.62" x2="817.6" y1="1226.1" y2="1226.1" stroke="#ABABAB" stroke-width="2.8" stroke-linecap="round" stroke-dasharray="0.01 5.9525"/>
<line x1="135.62" x2="817.6" y1="1299.7" y2="1299.7" stroke="#ABABAB" stroke-width="2.8" stroke-linecap="round" stroke-dasharray="0.01 5.9525"/>
<line x1="135.62" x2="817.6" y1="1373.3" y2="1373.3" stroke="#ABABAB" stroke-width="2.8" stroke-linecap="round" stroke-dasharray="0.01 5.9525"/>
<line x1="135.62" x2="817.6" y1="1447" y2="1447" stroke="#ABABAB" stroke-width="2.8" stroke-linecap="round" stroke-dasharray="0.01 5.9525"/>
<g clip-path="url(#c30)">
<path d="M181 1368.27V1341.98M181 1432.35V1476.16" stroke="#000" stroke-width="3.3" fill="none"/>
<path d="M171.6 1341.98H190.4M171.6 1476.16H190.4" stroke="#000" stroke-width="3.3" fill="none"/>
<rect x="165.5" y="1368.27" width="31" height="64.08" fill="#FFA600" stroke="#000" stroke-width="3.0"/>
<line x1="164.1" x2="197.9" y1="1402.31" y2="1402.31" stroke="#fff" stroke-width="2.8"/>
<path d="M220.3 1362.01V1335.98M220.3 1427.34V1476.16" stroke="#000" stroke-width="3.3" fill="none"/>
<path d="M210.9 1335.98H229.7M210.9 1476.16H229.7" stroke="#000" stroke-width="3.3" fill="none"/>
<rect x="204.8" y="1362.01" width="31" height="65.33" fill="#F05A3C" stroke="#000" stroke-width="3.0"/>
<line x1="203.4" x2="237.2" y1="1397.05" y2="1397.05" stroke="#fff" stroke-width="2.8"/>
<path d="M299 1353.75V1326.71M299 1421.08V1476.16" stroke="#000" stroke-width="3.3" fill="none"/>
<path d="M289.6 1326.71H308.4M289.6 1476.16H308.4" stroke="#000" stroke-width="3.3" fill="none"/>
<rect x="283.5" y="1353.75" width="31" height="67.34" fill="#BC1256" stroke="#000" stroke-width="3.0"/>
<line x1="282.1" x2="315.9" y1="1390.04" y2="1390.04" stroke="#fff" stroke-width="2.8"/>
<path d="M456.1 1343.99V1317.2M456.1 1410.32V1475.65" stroke="#000" stroke-width="3.3" fill="none"/>
<path d="M446.7 1317.2H465.5M446.7 1475.65H465.5" stroke="#000" stroke-width="3.3" fill="none"/>
<rect x="440.6" y="1343.99" width="31" height="66.34" fill="#6C0060" stroke="#000" stroke-width="3.0"/>
<line x1="439.2" x2="473" y1="1381.28" y2="1381.28" stroke="#fff" stroke-width="2.8"/>
<path d="M770.5 1335.22V1308.19M770.5 1404.06V1475.65" stroke="#000" stroke-width="3.3" fill="none"/>
<path d="M761.1 1308.19H779.9M761.1 1475.65H779.9" stroke="#000" stroke-width="3.3" fill="none"/>
<rect x="755" y="1335.22" width="31" height="68.84" fill="#000B4D" stroke="#000" stroke-width="3.0"/>
<line x1="753.6" x2="787.4" y1="1373.27" y2="1373.27" stroke="#fff" stroke-width="2.8"/>
<line x1="181" x2="181" y1="1247.96" y2="1341.88" stroke="#6B6B6B" stroke-width="8.2" stroke-linecap="round"/>
<circle cx="181" cy="1241.35" r="2.6" fill="none" stroke="#6B6B6B" stroke-width="3.0"/>
<line x1="220.3" x2="220.3" y1="1248.71" y2="1335.88" stroke="#6B6B6B" stroke-width="8.2" stroke-linecap="round"/>
<circle cx="220.3" cy="1240.6" r="2.6" fill="none" stroke="#6B6B6B" stroke-width="3.0"/>
<line x1="299" x2="299" y1="1237.94" y2="1326.61" stroke="#6B6B6B" stroke-width="8.2" stroke-linecap="round"/>
<line x1="456.1" x2="456.1" y1="1229.18" y2="1317.1" stroke="#6B6B6B" stroke-width="8.2" stroke-linecap="round"/>
<line x1="770.5" x2="770.5" y1="1222.42" y2="1308.09" stroke="#6B6B6B" stroke-width="8.2" stroke-linecap="round"/>
<circle cx="770.5" cy="1222.42" r="1.15" fill="#fff"/>
<rect x="172.62" y="1349.88" width="16.75" height="16.75" fill="#fff" stroke="#000" stroke-width="2.8"/>
<rect x="211.93" y="1344.62" width="16.75" height="16.75" fill="#fff" stroke="#000" stroke-width="2.8"/>
<rect x="290.62" y="1337.11" width="16.75" height="16.75" fill="#fff" stroke="#000" stroke-width="2.8"/>
<rect x="447.73" y="1326.85" width="16.75" height="16.75" fill="#fff" stroke="#000" stroke-width="2.8"/>
<rect x="762.12" y="1320.09" width="16.75" height="16.75" fill="#fff" stroke="#000" stroke-width="2.8"/>
</g>
<rect x="134.5" y="1166.95" width="683.1" height="323.74" fill="none" stroke="#000" stroke-width="2.6"/>
<path d="M134.5 1226.1h-10.6M134.5 1299.7h-10.6M134.5 1373.3h-10.6M134.5 1447h-10.6M181 1490.69v10.6M220.3 1490.69v10.6M299 1490.69v10.6M456.1 1490.69v10.6M770.5 1490.69v10.6" stroke="#000" stroke-width="2.6" fill="none"/>
<path d="M134.5 1485.38h-6.1M134.5 1476.19h-6.1M134.5 1469.06h-6.1M134.5 1463.23h-6.1M134.5 1458.3h-6.1M134.5 1454.03h-6.1M134.5 1450.27h-6.1M134.5 1424.74h-6.1M134.5 1411.78h-6.1M134.5 1402.59h-6.1M134.5 1395.46h-6.1M134.5 1389.63h-6.1M134.5 1384.7h-6.1M134.5 1380.43h-6.1M134.5 1376.67h-6.1M134.5 1351.14h-6.1M134.5 1338.18h-6.1M134.5 1328.99h-6.1M134.5 1321.86h-6.1M134.5 1316.03h-6.1M134.5 1311.1h-6.1M134.5 1306.83h-6.1M134.5 1303.07h-6.1M134.5 1277.54h-6.1M134.5 1264.58h-6.1M134.5 1255.39h-6.1M134.5 1248.26h-6.1M134.5 1242.43h-6.1M134.5 1237.5h-6.1M134.5 1233.23h-6.1M134.5 1229.47h-6.1M134.5 1203.94h-6.1M134.5 1190.98h-6.1M134.5 1181.79h-6.1M134.5 1174.66h-6.1M134.5 1168.83h-6.1" stroke="#000" stroke-width="1.9" fill="none"/>
</g>
<g>
<line x1="874.62" x2="1556.7" y1="1226.1" y2="1226.1" stroke="#ABABAB" stroke-width="2.8" stroke-linecap="round" stroke-dasharray="0.01 5.9525"/>
<line x1="874.62" x2="1556.7" y1="1299.7" y2="1299.7" stroke="#ABABAB" stroke-width="2.8" stroke-linecap="round" stroke-dasharray="0.01 5.9525"/>
<line x1="874.62" x2="1556.7" y1="1373.3" y2="1373.3" stroke="#ABABAB" stroke-width="2.8" stroke-linecap="round" stroke-dasharray="0.01 5.9525"/>
<line x1="874.62" x2="1556.7" y1="1447" y2="1447" stroke="#ABABAB" stroke-width="2.8" stroke-linecap="round" stroke-dasharray="0.01 5.9525"/>
<g clip-path="url(#c31)">
<path d="M920.2 1337.48V1310.44M920.2 1404.81V1472.65" stroke="#000" stroke-width="3.3" fill="none"/>
<path d="M910.8 1310.44H929.6M910.8 1472.65H929.6" stroke="#000" stroke-width="3.3" fill="none"/>
<rect x="904.7" y="1337.48" width="31" height="67.34" fill="#FFA600" stroke="#000" stroke-width="3.0"/>
<line x1="903.3" x2="937.1" y1="1373.52" y2="1373.52" stroke="#fff" stroke-width="2.8"/>
<path d="M959.6 1332.22V1305.19M959.6 1399.06V1471.65" stroke="#000" stroke-width="3.3" fill="none"/>
<path d="M950.2 1305.19H969M950.2 1471.65H969" stroke="#000" stroke-width="3.3" fill="none"/>
<rect x="944.1" y="1332.22" width="31" height="66.84" fill="#F05A3C" stroke="#000" stroke-width="3.0"/>
<line x1="942.7" x2="976.5" y1="1368.02" y2="1368.02" stroke="#fff" stroke-width="2.8"/>
<path d="M1038.2 1325.21V1298.18M1038.2 1392.8V1469.65" stroke="#000" stroke-width="3.3" fill="none"/>
<path d="M1028.8 1298.18H1047.6M1028.8 1469.65H1047.6" stroke="#000" stroke-width="3.3" fill="none"/>
<rect x="1022.7" y="1325.21" width="31" height="67.59" fill="#BC1256" stroke="#000" stroke-width="3.0"/>
<line x1="1021.3" x2="1055.1" y1="1360.51" y2="1360.51" stroke="#fff" stroke-width="2.8"/>
<path d="M1195.4 1314.7V1287.66M1195.4 1385.54V1475.65" stroke="#000" stroke-width="3.3" fill="none"/>
<path d="M1186 1287.66H1204.8M1186 1475.65H1204.8" stroke="#000" stroke-width="3.3" fill="none"/>
<rect x="1179.9" y="1314.7" width="31" height="70.84" fill="#6C0060" stroke="#000" stroke-width="3.0"/>
<line x1="1178.5" x2="1212.3" y1="1352.5" y2="1352.5" stroke="#fff" stroke-width="2.8"/>
<path d="M1509.8 1308.19V1281.16M1509.8 1381.78V1475.65" stroke="#000" stroke-width="3.3" fill="none"/>
<path d="M1500.4 1281.16H1519.2M1500.4 1475.65H1519.2" stroke="#000" stroke-width="3.3" fill="none"/>
<rect x="1494.3" y="1308.19" width="31" height="73.59" fill="#000B4D" stroke="#000" stroke-width="3.0"/>
<line x1="1492.9" x2="1526.7" y1="1347.24" y2="1347.24" stroke="#fff" stroke-width="2.8"/>
<line x1="920.2" x2="920.2" y1="1230.44" y2="1310.34" stroke="#6B6B6B" stroke-width="8.2" stroke-linecap="round"/>
<circle cx="920.2" cy="1182.03" r="2.6" fill="none" stroke="#6B6B6B" stroke-width="3.0"/>
<circle cx="920.2" cy="1200.55" r="2.6" fill="none" stroke="#6B6B6B" stroke-width="3.0"/>
<circle cx="920.2" cy="1215.57" r="2.6" fill="none" stroke="#6B6B6B" stroke-width="3.0"/>
<line x1="959.6" x2="959.6" y1="1233.69" y2="1305.09" stroke="#6B6B6B" stroke-width="8.2" stroke-linecap="round"/>
<circle cx="959.6" cy="1182.03" r="2.6" fill="none" stroke="#6B6B6B" stroke-width="3.0"/>
<circle cx="959.6" cy="1202.55" r="2.6" fill="none" stroke="#6B6B6B" stroke-width="3.0"/>
<circle cx="959.6" cy="1213.32" r="2.6" fill="none" stroke="#6B6B6B" stroke-width="3.0"/>
<circle cx="959.6" cy="1218.32" r="2.6" fill="none" stroke="#6B6B6B" stroke-width="3.0"/>
<line x1="1038.2" x2="1038.2" y1="1217.92" y2="1298.08" stroke="#6B6B6B" stroke-width="8.2" stroke-linecap="round"/>
<circle cx="1038.2" cy="1207.56" r="2.6" fill="none" stroke="#6B6B6B" stroke-width="3.0"/>
<circle cx="1038.2" cy="1211.32" r="2.6" fill="none" stroke="#6B6B6B" stroke-width="3.0"/>
<line x1="1195.4" x2="1195.4" y1="1220.42" y2="1287.56" stroke="#6B6B6B" stroke-width="8.2" stroke-linecap="round"/>
<circle cx="1195.4" cy="1211.82" r="2.6" fill="none" stroke="#6B6B6B" stroke-width="3.0"/>
<line x1="1509.8" x2="1509.8" y1="1216.17" y2="1281.06" stroke="#6B6B6B" stroke-width="8.2" stroke-linecap="round"/>
<rect x="911.83" y="1323.85" width="16.75" height="16.75" fill="#fff" stroke="#000" stroke-width="2.8"/>
<rect x="951.23" y="1320.09" width="16.75" height="16.75" fill="#fff" stroke="#000" stroke-width="2.8"/>
<rect x="1029.83" y="1313.33" width="16.75" height="16.75" fill="#fff" stroke="#000" stroke-width="2.8"/>
<rect x="1187.03" y="1305.32" width="16.75" height="16.75" fill="#fff" stroke="#000" stroke-width="2.8"/>
<rect x="1501.42" y="1300.32" width="16.75" height="16.75" fill="#fff" stroke="#000" stroke-width="2.8"/>
</g>
<rect x="873.5" y="1166.95" width="683.2" height="323.74" fill="none" stroke="#000" stroke-width="2.6"/>
<path d="M873.5 1226.1h-10.6M873.5 1299.7h-10.6M873.5 1373.3h-10.6M873.5 1447h-10.6M920.2 1490.69v10.6M959.6 1490.69v10.6M1038.2 1490.69v10.6M1195.4 1490.69v10.6M1509.8 1490.69v10.6" stroke="#000" stroke-width="2.6" fill="none"/>
<path d="M873.5 1485.38h-6.1M873.5 1476.19h-6.1M873.5 1469.06h-6.1M873.5 1463.23h-6.1M873.5 1458.3h-6.1M873.5 1454.03h-6.1M873.5 1450.27h-6.1M873.5 1424.74h-6.1M873.5 1411.78h-6.1M873.5 1402.59h-6.1M873.5 1395.46h-6.1M873.5 1389.63h-6.1M873.5 1384.7h-6.1M873.5 1380.43h-6.1M873.5 1376.67h-6.1M873.5 1351.14h-6.1M873.5 1338.18h-6.1M873.5 1328.99h-6.1M873.5 1321.86h-6.1M873.5 1316.03h-6.1M873.5 1311.1h-6.1M873.5 1306.83h-6.1M873.5 1303.07h-6.1M873.5 1277.54h-6.1M873.5 1264.58h-6.1M873.5 1255.39h-6.1M873.5 1248.26h-6.1M873.5 1242.43h-6.1M873.5 1237.5h-6.1M873.5 1233.23h-6.1M873.5 1229.47h-6.1M873.5 1203.94h-6.1M873.5 1190.98h-6.1M873.5 1181.79h-6.1M873.5 1174.66h-6.1M873.5 1168.83h-6.1" stroke="#000" stroke-width="1.9" fill="none"/>
</g>
<g>
<line x1="135.62" x2="817.6" y1="1617.1" y2="1617.1" stroke="#ABABAB" stroke-width="2.8" stroke-linecap="round" stroke-dasharray="0.01 5.9525"/>
<line x1="135.62" x2="817.6" y1="1751.5" y2="1751.5" stroke="#ABABAB" stroke-width="2.8" stroke-linecap="round" stroke-dasharray="0.01 5.9525"/>
<g clip-path="url(#c40)">
<path d="M181 1644.64V1617.86M181 1849.91V1884.43" stroke="#000" stroke-width="3.3" fill="none"/>
<path d="M171.6 1617.86H190.4" stroke="#000" stroke-width="3.3" fill="none"/>
<rect x="165.5" y="1644.64" width="31" height="205.26" fill="#FFA600" stroke="#000" stroke-width="3.0"/>
<line x1="164.1" x2="197.9" y1="1687.45" y2="1687.45" stroke="#fff" stroke-width="2.8"/>
<path d="M220.3 1639.64V1612.35M220.3 1884.43V1884.43" stroke="#000" stroke-width="3.3" fill="none"/>
<path d="M210.9 1612.35H229.7" stroke="#000" stroke-width="3.3" fill="none"/>
<rect x="204.8" y="1639.64" width="31" height="244.79" fill="#F05A3C" stroke="#000" stroke-width="3.0"/>
<line x1="203.4" x2="237.2" y1="1682.44" y2="1682.44" stroke="#fff" stroke-width="2.8"/>
<path d="M299 1636.38V1609.85M299 1884.43V1884.43" stroke="#000" stroke-width="3.3" fill="none"/>
<path d="M289.6 1609.85H308.4" stroke="#000" stroke-width="3.3" fill="none"/>
<rect x="283.5" y="1636.38" width="31" height="248.05" fill="#BC1256" stroke="#000" stroke-width="3.0"/>
<line x1="282.1" x2="315.9" y1="1685.2" y2="1685.2" stroke="#fff" stroke-width="2.8"/>
<path d="M456.1 1635.38V1608.85M456.1 1884.43V1884.43" stroke="#000" stroke-width="3.3" fill="none"/>
<path d="M446.7 1608.85H465.5" stroke="#000" stroke-width="3.3" fill="none"/>
<rect x="440.6" y="1635.38" width="31" height="249.05" fill="#6C0060" stroke="#000" stroke-width="3.0"/>
<line x1="439.2" x2="473" y1="1701.47" y2="1701.47" stroke="#fff" stroke-width="2.8"/>
<path d="M770.5 1649.15V1622.62M770.5 1884.43V1884.43" stroke="#000" stroke-width="3.3" fill="none"/>
<path d="M761.1 1622.62H779.9" stroke="#000" stroke-width="3.3" fill="none"/>
<rect x="755" y="1649.15" width="31" height="235.28" fill="#000B4D" stroke="#000" stroke-width="3.0"/>
<line x1="753.6" x2="787.4" y1="1751.78" y2="1751.78" stroke="#fff" stroke-width="2.8"/>
<line x1="181" x2="181" y1="1564.89" y2="1617.76" stroke="#6B6B6B" stroke-width="8.2" stroke-linecap="round"/>
<line x1="220.3" x2="220.3" y1="1565.39" y2="1612.25" stroke="#6B6B6B" stroke-width="8.2" stroke-linecap="round"/>
<line x1="299" x2="299" y1="1564.39" y2="1609.75" stroke="#6B6B6B" stroke-width="8.2" stroke-linecap="round"/>
<line x1="456.1" x2="456.1" y1="1567.39" y2="1608.75" stroke="#6B6B6B" stroke-width="8.2" stroke-linecap="round"/>
<line x1="770.5" x2="770.5" y1="1564.89" y2="1622.52" stroke="#6B6B6B" stroke-width="8.2" stroke-linecap="round"/>
<rect x="172.62" y="1636.27" width="16.75" height="16.75" fill="#fff" stroke="#000" stroke-width="2.8"/>
<rect x="211.93" y="1632.76" width="16.75" height="16.75" fill="#fff" stroke="#000" stroke-width="2.8"/>
<rect x="290.62" y="1631.76" width="16.75" height="16.75" fill="#fff" stroke="#000" stroke-width="2.8"/>
<rect x="447.73" y="1633.02" width="16.75" height="16.75" fill="#fff" stroke="#000" stroke-width="2.8"/>
<rect x="762.12" y="1639.27" width="16.75" height="16.75" fill="#fff" stroke="#000" stroke-width="2.8"/>
</g>
<rect x="134.5" y="1540.69" width="683.1" height="323.74" fill="none" stroke="#000" stroke-width="2.6"/>
<path d="M134.5 1617.1h-10.6M134.5 1751.5h-10.6M181 1864.43v10.6M220.3 1864.43v10.6M299 1864.43v10.6M456.1 1864.43v10.6M770.5 1864.43v10.6" stroke="#000" stroke-width="2.6" fill="none"/>
</g>
<g>
<line x1="874.62" x2="1556.7" y1="1617.1" y2="1617.1" stroke="#ABABAB" stroke-width="2.8" stroke-linecap="round" stroke-dasharray="0.01 5.9525"/>
<line x1="874.62" x2="1556.7" y1="1751.5" y2="1751.5" stroke="#ABABAB" stroke-width="2.8" stroke-linecap="round" stroke-dasharray="0.01 5.9525"/>
<g clip-path="url(#c41)">
<path d="M920.2 1585.32V1563.29M920.2 1625.37V1884.43" stroke="#000" stroke-width="3.3" fill="none"/>
<path d="M910.8 1563.29H929.6" stroke="#000" stroke-width="3.3" fill="none"/>
<rect x="904.7" y="1585.32" width="31" height="40.05" fill="#FFA600" stroke="#000" stroke-width="3.0"/>
<line x1="903.3" x2="937.1" y1="1600.34" y2="1600.34" stroke="#fff" stroke-width="2.8"/>
<path d="M959.6 1585.32V1562.54M959.6 1628.37V1884.43" stroke="#000" stroke-width="3.3" fill="none"/>
<path d="M950.2 1562.54H969" stroke="#000" stroke-width="3.3" fill="none"/>
<rect x="944.1" y="1585.32" width="31" height="43.06" fill="#F05A3C" stroke="#000" stroke-width="3.0"/>
<line x1="942.7" x2="976.5" y1="1601.09" y2="1601.09" stroke="#fff" stroke-width="2.8"/>
<path d="M1038.2 1585.32V1562.04M1038.2 1633.88V1884.43" stroke="#000" stroke-width="3.3" fill="none"/>
<path d="M1028.8 1562.04H1047.6" stroke="#000" stroke-width="3.3" fill="none"/>
<rect x="1022.7" y="1585.32" width="31" height="48.56" fill="#BC1256" stroke="#000" stroke-width="3.0"/>
<line x1="1021.3" x2="1055.1" y1="1603.34" y2="1603.34" stroke="#fff" stroke-width="2.8"/>
<path d="M1195.4 1587.32V1563.79M1195.4 1640.39V1884.43" stroke="#000" stroke-width="3.3" fill="none"/>
<path d="M1186 1563.79H1204.8" stroke="#000" stroke-width="3.3" fill="none"/>
<rect x="1179.9" y="1587.32" width="31" height="53.07" fill="#6C0060" stroke="#000" stroke-width="3.0"/>
<line x1="1178.5" x2="1212.3" y1="1606.85" y2="1606.85" stroke="#fff" stroke-width="2.8"/>
<path d="M1509.8 1592.08V1567.8M1509.8 1647.4V1884.43" stroke="#000" stroke-width="3.3" fill="none"/>
<path d="M1500.4 1567.8H1519.2" stroke="#000" stroke-width="3.3" fill="none"/>
<rect x="1494.3" y="1592.08" width="31" height="55.32" fill="#000B4D" stroke="#000" stroke-width="3.0"/>
<line x1="1492.9" x2="1526.7" y1="1613.35" y2="1613.35" stroke="#fff" stroke-width="2.8"/>
<line x1="920.2" x2="920.2" y1="1556.13" y2="1563.19" stroke="#6B6B6B" stroke-width="8.2" stroke-linecap="round"/>
<line x1="959.6" x2="959.6" y1="1556.13" y2="1562.44" stroke="#6B6B6B" stroke-width="8.2" stroke-linecap="round"/>
<line x1="1038.2" x2="1038.2" y1="1555.37" y2="1561.94" stroke="#6B6B6B" stroke-width="8.2" stroke-linecap="round"/>
<line x1="1195.4" x2="1195.4" y1="1556.63" y2="1563.69" stroke="#6B6B6B" stroke-width="8.2" stroke-linecap="round"/>
<line x1="1509.8" x2="1509.8" y1="1556.63" y2="1567.7" stroke="#6B6B6B" stroke-width="8.2" stroke-linecap="round"/>
<rect x="911.83" y="1588.71" width="16.75" height="16.75" fill="#fff" stroke="#000" stroke-width="2.8"/>
<rect x="951.23" y="1588.71" width="16.75" height="16.75" fill="#fff" stroke="#000" stroke-width="2.8"/>
<rect x="1029.83" y="1589.46" width="16.75" height="16.75" fill="#fff" stroke="#000" stroke-width="2.8"/>
<rect x="1187.03" y="1591.96" width="16.75" height="16.75" fill="#fff" stroke="#000" stroke-width="2.8"/>
<rect x="1501.42" y="1596.22" width="16.75" height="16.75" fill="#fff" stroke="#000" stroke-width="2.8"/>
</g>
<rect x="873.5" y="1540.69" width="683.2" height="323.74" fill="none" stroke="#000" stroke-width="2.6"/>
<path d="M873.5 1617.1h-10.6M873.5 1751.5h-10.6M920.2 1864.43v10.6M959.6 1864.43v10.6M1038.2 1864.43v10.6M1195.4 1864.43v10.6M1509.8 1864.43v10.6" stroke="#000" stroke-width="2.6" fill="none"/>
</g>
<g>
<line x1="135.62" x2="817.6" y1="1999.6" y2="1999.6" stroke="#ABABAB" stroke-width="2.8" stroke-linecap="round" stroke-dasharray="0.01 5.9525"/>
<line x1="135.62" x2="817.6" y1="2140.5" y2="2140.5" stroke="#ABABAB" stroke-width="2.8" stroke-linecap="round" stroke-dasharray="0.01 5.9525"/>
<g clip-path="url(#c50)">
<path d="M181 2000.87V1972.59M181 2223.41V2258.17" stroke="#000" stroke-width="3.3" fill="none"/>
<path d="M171.6 1972.59H190.4" stroke="#000" stroke-width="3.3" fill="none"/>
<rect x="165.5" y="2000.87" width="31" height="222.54" fill="#FFA600" stroke="#000" stroke-width="3.0"/>
<line x1="164.1" x2="197.9" y1="2047.43" y2="2047.43" stroke="#fff" stroke-width="2.8"/>
<path d="M220.3 1998.37V1970.08M220.3 2258.17V2258.17" stroke="#000" stroke-width="3.3" fill="none"/>
<path d="M210.9 1970.08H229.7" stroke="#000" stroke-width="3.3" fill="none"/>
<rect x="204.8" y="1998.37" width="31" height="259.8" fill="#F05A3C" stroke="#000" stroke-width="3.0"/>
<line x1="203.4" x2="237.2" y1="2043.68" y2="2043.68" stroke="#fff" stroke-width="2.8"/>
<path d="M299 1997.12V1969.08M299 2258.17V2258.17" stroke="#000" stroke-width="3.3" fill="none"/>
<path d="M289.6 1969.08H308.4" stroke="#000" stroke-width="3.3" fill="none"/>
<rect x="283.5" y="1997.12" width="31" height="261.05" fill="#BC1256" stroke="#000" stroke-width="3.0"/>
<line x1="282.1" x2="315.9" y1="2049.18" y2="2049.18" stroke="#fff" stroke-width="2.8"/>
<path d="M456.1 1997.12V1969.08M456.1 2258.17V2258.17" stroke="#000" stroke-width="3.3" fill="none"/>
<path d="M446.7 1969.08H465.5" stroke="#000" stroke-width="3.3" fill="none"/>
<rect x="440.6" y="1997.12" width="31" height="261.05" fill="#6C0060" stroke="#000" stroke-width="3.0"/>
<line x1="439.2" x2="473" y1="2069.21" y2="2069.21" stroke="#fff" stroke-width="2.8"/>
<path d="M770.5 2011.64V1984.1M770.5 2258.17V2258.17" stroke="#000" stroke-width="3.3" fill="none"/>
<path d="M761.1 1984.1H779.9" stroke="#000" stroke-width="3.3" fill="none"/>
<rect x="755" y="2011.64" width="31" height="246.53" fill="#000B4D" stroke="#000" stroke-width="3.0"/>
<line x1="753.6" x2="787.4" y1="2118.52" y2="2118.52" stroke="#fff" stroke-width="2.8"/>
<line x1="181" x2="181" y1="1928.12" y2="1972.49" stroke="#6B6B6B" stroke-width="8.2" stroke-linecap="round"/>
<line x1="220.3" x2="220.3" y1="1928.12" y2="1969.98" stroke="#6B6B6B" stroke-width="8.2" stroke-linecap="round"/>
<line x1="299" x2="299" y1="1928.12" y2="1968.98" stroke="#6B6B6B" stroke-width="8.2" stroke-linecap="round"/>
<line x1="456.1" x2="456.1" y1="1928.12" y2="1968.98" stroke="#6B6B6B" stroke-width="8.2" stroke-linecap="round"/>
<line x1="770.5" x2="770.5" y1="1928.87" y2="1984" stroke="#6B6B6B" stroke-width="8.2" stroke-linecap="round"/>
<rect x="172.62" y="1992.25" width="16.75" height="16.75" fill="#fff" stroke="#000" stroke-width="2.8"/>
<rect x="211.93" y="1990.74" width="16.75" height="16.75" fill="#fff" stroke="#000" stroke-width="2.8"/>
<rect x="290.62" y="1990.74" width="16.75" height="16.75" fill="#fff" stroke="#000" stroke-width="2.8"/>
<rect x="447.73" y="1992.5" width="16.75" height="16.75" fill="#fff" stroke="#000" stroke-width="2.8"/>
<rect x="762.12" y="1999.76" width="16.75" height="16.75" fill="#fff" stroke="#000" stroke-width="2.8"/>
</g>
<rect x="134.5" y="1914.43" width="683.1" height="323.74" fill="none" stroke="#000" stroke-width="2.6"/>
<path d="M134.5 1999.6h-10.6M134.5 2140.5h-10.6M181 2238.17v10.6M220.3 2238.17v10.6M299 2238.17v10.6M456.1 2238.17v10.6M770.5 2238.17v10.6" stroke="#000" stroke-width="2.6" fill="none"/>
</g>
<g>
<line x1="874.62" x2="1556.7" y1="1999.6" y2="1999.6" stroke="#ABABAB" stroke-width="2.8" stroke-linecap="round" stroke-dasharray="0.01 5.9525"/>
<line x1="874.62" x2="1556.7" y1="2140.5" y2="2140.5" stroke="#ABABAB" stroke-width="2.8" stroke-linecap="round" stroke-dasharray="0.01 5.9525"/>
<g clip-path="url(#c51)">
<path d="M920.2 1946.8V1929.28M920.2 1992.36V2258.17" stroke="#000" stroke-width="3.3" fill="none"/>
<path d="M910.8 1929.28H929.6" stroke="#000" stroke-width="3.3" fill="none"/>
<rect x="904.7" y="1946.8" width="31" height="45.56" fill="#FFA600" stroke="#000" stroke-width="3.0"/>
<line x1="903.3" x2="937.1" y1="1965.08" y2="1965.08" stroke="#fff" stroke-width="2.8"/>
<path d="M959.6 1947.55V1929.28M959.6 1997.12V2258.17" stroke="#000" stroke-width="3.3" fill="none"/>
<path d="M950.2 1929.28H969" stroke="#000" stroke-width="3.3" fill="none"/>
<rect x="944.1" y="1947.55" width="31" height="49.56" fill="#F05A3C" stroke="#000" stroke-width="3.0"/>
<line x1="942.7" x2="976.5" y1="1966.83" y2="1966.83" stroke="#fff" stroke-width="2.8"/>
<path d="M1038.2 1948.8V1929.28M1038.2 2003.37V2258.17" stroke="#000" stroke-width="3.3" fill="none"/>
<path d="M1028.8 1929.28H1047.6" stroke="#000" stroke-width="3.3" fill="none"/>
<rect x="1022.7" y="1948.8" width="31" height="54.57" fill="#BC1256" stroke="#000" stroke-width="3.0"/>
<line x1="1021.3" x2="1055.1" y1="1968.33" y2="1968.33" stroke="#fff" stroke-width="2.8"/>
<path d="M1195.4 1951.56V1929.28M1195.4 2009.88V2258.17" stroke="#000" stroke-width="3.3" fill="none"/>
<path d="M1186 1929.28H1204.8" stroke="#000" stroke-width="3.3" fill="none"/>
<rect x="1179.9" y="1951.56" width="31" height="58.32" fill="#6C0060" stroke="#000" stroke-width="3.0"/>
<line x1="1178.5" x2="1212.3" y1="1972.84" y2="1972.84" stroke="#fff" stroke-width="2.8"/>
<path d="M1509.8 1955.56V1929.53M1509.8 2020.4V2258.17" stroke="#000" stroke-width="3.3" fill="none"/>
<path d="M1500.4 1929.53H1519.2" stroke="#000" stroke-width="3.3" fill="none"/>
<rect x="1494.3" y="1955.56" width="31" height="64.83" fill="#000B4D" stroke="#000" stroke-width="3.0"/>
<line x1="1492.9" x2="1526.7" y1="1979.59" y2="1979.59" stroke="#fff" stroke-width="2.8"/>
<circle cx="1509.8" cy="1929.28" r="2.6" fill="none" stroke="#6B6B6B" stroke-width="3.0"/>
<rect x="911.83" y="1951.69" width="16.75" height="16.75" fill="#fff" stroke="#000" stroke-width="2.8"/>
<rect x="951.23" y="1952.7" width="16.75" height="16.75" fill="#fff" stroke="#000" stroke-width="2.8"/>
<rect x="1029.83" y="1954.45" width="16.75" height="16.75" fill="#fff" stroke="#000" stroke-width="2.8"/>
<rect x="1187.03" y="1956.95" width="16.75" height="16.75" fill="#fff" stroke="#000" stroke-width="2.8"/>
<rect x="1501.42" y="1961.21" width="16.75" height="16.75" fill="#fff" stroke="#000" stroke-width="2.8"/>
</g>
<rect x="873.5" y="1914.43" width="683.2" height="323.74" fill="none" stroke="#000" stroke-width="2.6"/>
<path d="M873.5 1999.6h-10.6M873.5 2140.5h-10.6M920.2 2238.17v10.6M959.6 2238.17v10.6M1038.2 2238.17v10.6M1195.4 2238.17v10.6M1509.8 2238.17v10.6" stroke="#000" stroke-width="2.6" fill="none"/>
</g>
<g font-family="'DejaVu Sans', 'Liberation Sans', sans-serif" fill="#000" stroke="#000" stroke-width="0.35">
<text x="475.5" y="28.8" font-size="37.2" font-style="italic" text-anchor="middle">A. millepora</text>
<text x="1214.7" y="28.8" font-size="37.2" font-style="italic" text-anchor="middle">G. retiformis</text>
<text x="57.6" y="190.1" font-size="31.2">10<tspan dx="0.5" dy="-11.8" font-size="21.8">2</tspan></text>
<text x="57.6" y="374.8" font-size="31.2">10<tspan dx="0.5" dy="-11.8" font-size="21.8">1</tspan></text>
<text transform="translate(24.1 207.69) rotate(-90)" font-size="31" text-anchor="middle">Out-degree</text>
<text x="41.5" y="490.7" font-size="31.2">10<tspan dx="-0.4" dy="-11.8" font-size="21.8">−4</tspan></text>
<text x="41.5" y="564.4" font-size="31.2">10<tspan dx="-0.4" dy="-11.8" font-size="21.8">−5</tspan></text>
<text x="41.5" y="638.2" font-size="31.2">10<tspan dx="-0.4" dy="-11.8" font-size="21.8">−6</tspan></text>
<text x="41.5" y="712" font-size="31.2">10<tspan dx="-0.4" dy="-11.8" font-size="21.8">−7</tspan></text>
<text transform="translate(24.1 581.34) rotate(-90)" font-size="31" text-anchor="middle">Mean Outgoing Strength</text>
<text x="57.6" y="920.9" font-size="31.2">10<tspan dx="0.5" dy="-11.8" font-size="21.8">2</tspan></text>
<text x="57.6" y="1114.8" font-size="31.2">10<tspan dx="0.5" dy="-11.8" font-size="21.8">1</tspan></text>
<text transform="translate(24.1 955.08) rotate(-90)" font-size="31" text-anchor="middle">In-degree</text>
<text x="41.5" y="1238.3" font-size="31.2">10<tspan dx="-0.4" dy="-11.8" font-size="21.8">−4</tspan></text>
<text x="41.5" y="1311.9" font-size="31.2">10<tspan dx="-0.4" dy="-11.8" font-size="21.8">−5</tspan></text>
<text x="41.5" y="1385.5" font-size="31.2">10<tspan dx="-0.4" dy="-11.8" font-size="21.8">−6</tspan></text>
<text x="41.5" y="1459.2" font-size="31.2">10<tspan dx="-0.4" dy="-11.8" font-size="21.8">−7</tspan></text>
<text transform="translate(24.1 1328.82) rotate(-90)" font-size="31" text-anchor="middle">Mean Incoming Strength</text>
<text x="41.5" y="1629.3" font-size="31.2">10<tspan dx="-0.4" dy="-11.8" font-size="21.8">−1</tspan></text>
<text x="41.5" y="1763.7" font-size="31.2">10<tspan dx="-0.4" dy="-11.8" font-size="21.8">−3</tspan></text>
<text transform="translate(24.1 1702.56) rotate(-90)" font-size="31" text-anchor="middle">Local Retention</text>
<text x="41.5" y="2011.8" font-size="31.2">10<tspan dx="-0.4" dy="-11.8" font-size="21.8">−1</tspan></text>
<text x="41.5" y="2152.7" font-size="31.2">10<tspan dx="-0.4" dy="-11.8" font-size="21.8">−3</tspan></text>
<text transform="translate(24.1 2076.3) rotate(-90)" font-size="31" text-anchor="middle">Self-recruitment</text>
<text transform="translate(199.7 2272.9) rotate(-50)" font-size="31.2" text-anchor="end">250 m</text>
<text transform="translate(239 2272.9) rotate(-50)" font-size="31.2" text-anchor="end">500 m</text>
<text transform="translate(317.7 2272.9) rotate(-50)" font-size="31.2" text-anchor="end">1000 m</text>
<text transform="translate(474.8 2272.9) rotate(-50)" font-size="31.2" text-anchor="end">2000 m</text>
<text transform="translate(789.2 2272.9) rotate(-50)" font-size="31.2" text-anchor="end">4000 m</text>
<text transform="translate(938.9 2272.9) rotate(-50)" font-size="31.2" text-anchor="end">250 m</text>
<text transform="translate(978.3 2272.9) rotate(-50)" font-size="31.2" text-anchor="end">500 m</text>
<text transform="translate(1056.9 2272.9) rotate(-50)" font-size="31.2" text-anchor="end">1000 m</text>
<text transform="translate(1214.1 2272.9) rotate(-50)" font-size="31.2" text-anchor="end">2000 m</text>
<text transform="translate(1528.5 2272.9) rotate(-50)" font-size="31.2" text-anchor="end">4000 m</text>
</g>
</svg>
</body></html>
